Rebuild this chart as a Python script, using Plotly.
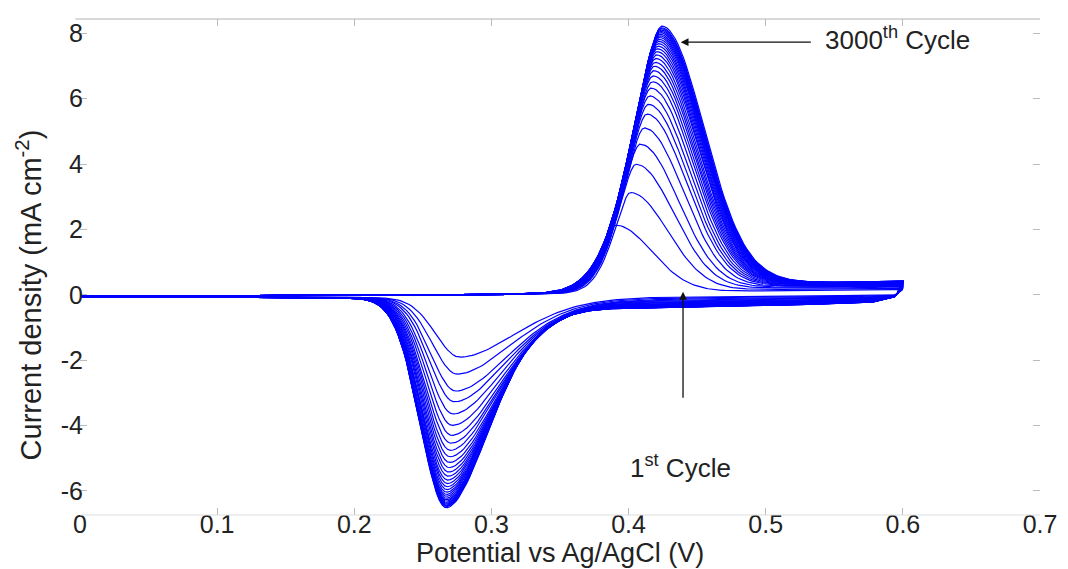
import numpy as np
import plotly.graph_objects as go

# ---------------- data ----------------
# anodic (oxidation) peak of each plotted cycle, 1st -> 3000th
ANODIC_PEAK = [2.08, 3.08, 3.95, 4.57, 5.07, 5.50, 5.80, 6.06, 6.30, 6.50, 6.68,
               6.84, 6.98, 7.10, 7.22, 7.33, 7.43, 7.52, 7.60, 7.68, 7.75, 7.81,
               7.87, 7.92, 7.97, 8.02, 8.06, 8.10, 8.14, 8.17, 8.22]
ANODIC_POT = [0.390, 0.401, 0.405, 0.408, 0.411, 0.413, 0.414, 0.415, 0.416, 0.417,
              0.4175, 0.418, 0.4185, 0.419, 0.4195, 0.420, 0.4203, 0.4206, 0.421,
              0.4213, 0.4216, 0.422, 0.4222, 0.4224, 0.4226, 0.4228, 0.423, 0.4232,
              0.4234, 0.4236, 0.424]
# cathodic (reduction) peak of each plotted cycle
CATHODIC_PEAK = [-1.80, -2.33, -2.86, -3.20, -3.58, -3.94, -4.25, -4.50, -4.72, -4.92,
                 -5.10, -5.26, -5.40, -5.53, -5.65, -5.76, -5.86, -5.95, -6.03, -6.10,
                 -6.16, -6.22, -6.27, -6.31, -6.35, -6.38, -6.41, -6.44, -6.46, -6.48,
                 -6.52]
CATHODIC_POT = [0.277, 0.275, 0.274, 0.273, 0.272, 0.2715, 0.271, 0.2705, 0.270,
                0.2697, 0.2694, 0.269, 0.2687, 0.2684, 0.268, 0.2678, 0.2676, 0.2674,
                0.2672, 0.267, 0.267, 0.267, 0.267, 0.267, 0.267, 0.267, 0.267, 0.267,
                0.267, 0.267, 0.267]

# peak widths (V) of first and last cycle: left / right of the peak
ANODIC_WIDTH_FIRST = [0.0152, 0.0378]
ANODIC_WIDTH_LAST = [0.0307, 0.0434]
CATHODIC_WIDTH_FIRST = [0.0250, 0.0590]
CATHODIC_WIDTH_LAST = [0.0265, 0.0460]

# capacitive background of forward / reverse sweeps (first and last cycle)
FWD_BG_X = [0.0, 0.1, 0.2, 0.3, 0.35, 0.4, 0.45, 0.5, 0.55, 0.58, 0.6]
FWD_BG_FIRST = [-0.05, -0.04, -0.02, 0.0, 0.03, 0.06, 0.10, 0.12, 0.13, 0.15, 0.16]
FWD_BG_LAST = [-0.05, -0.04, -0.02, 0.0, 0.05, 0.15, 0.30, 0.40, 0.38, 0.40, 0.42]
REV_BG_X = [0.0, 0.1, 0.2, 0.25, 0.3, 0.35, 0.4, 0.45, 0.5, 0.55, 0.58, 0.595, 0.6]
REV_BG_FIRST = [-0.06, -0.06, -0.08, -0.10, -0.12, -0.10, -0.08, -0.05, -0.04, -0.03,
                -0.02, 0.0, 0.16]
REV_BG_LAST = [-0.07, -0.07, -0.10, -0.15, -0.28, -0.42, -0.40, -0.36, -0.32, -0.28,
               -0.22, -0.05, 0.42]

X_TICKS = [0, 0.1, 0.2, 0.3, 0.4, 0.5, 0.6, 0.7]
X_TICK_TEXT = ["0", "0.1", "0.2", "0.3", "0.4", "0.5", "0.6", "0.7"]
Y_TICKS = [-6, -4, -2, 0, 2, 4, 6, 8]
Y_TICK_TEXT = ["-6", "-4", "-2", "0", "2", "4", "6", "8"]

# ---------------- build the voltammograms ----------------
E_fwd = np.linspace(0.0, 0.6, 301)
E_rev = E_fwd[::-1]


def peak(E, h, p, L, a, R, b):
    d = E - p
    left = np.exp(-(np.abs(d) / L) ** a)
    right = np.exp(-(np.abs(d) / R) ** b)
    return h * np.where(d < 0, left, right)


fig = go.Figure()
n = len(ANODIC_PEAK)
for i in range(n):
    ta = (ANODIC_PEAK[i] - ANODIC_PEAK[0]) / (ANODIC_PEAK[-1] - ANODIC_PEAK[0])
    tc = (CATHODIC_PEAK[i] - CATHODIC_PEAK[0]) / (CATHODIC_PEAK[-1] - CATHODIC_PEAK[0])
    fb = np.interp(E_fwd, FWD_BG_X, FWD_BG_FIRST) * (1 - ta) + np.interp(E_fwd, FWD_BG_X, FWD_BG_LAST) * ta
    rb = np.interp(E_rev, REV_BG_X, REV_BG_FIRST) * (1 - tc) + np.interp(E_rev, REV_BG_X, REV_BG_LAST) * tc
    La = ANODIC_WIDTH_FIRST[0] + ta * (ANODIC_WIDTH_LAST[0] - ANODIC_WIDTH_FIRST[0])
    Ra = ANODIC_WIDTH_FIRST[1] + ta * (ANODIC_WIDTH_LAST[1] - ANODIC_WIDTH_FIRST[1])
    Lc = CATHODIC_WIDTH_FIRST[0] + tc * (CATHODIC_WIDTH_LAST[0] - CATHODIC_WIDTH_FIRST[0])
    Rc = CATHODIC_WIDTH_FIRST[1] + tc * (CATHODIC_WIDTH_LAST[1] - CATHODIC_WIDTH_FIRST[1])
    ha = ANODIC_PEAK[i] - np.interp(ANODIC_POT[i], FWD_BG_X, FWD_BG_LAST) * ta
    hc = CATHODIC_PEAK[i] - np.interp(CATHODIC_POT[i], REV_BG_X, REV_BG_LAST) * tc
    j_f = fb + peak(E_fwd, ha, ANODIC_POT[i], La, 1.6 + 0.1 * ta, Ra, 2.0)
    j_r = rb + peak(E_rev, hc, CATHODIC_POT[i], Lc, 2.0, Rc, 1.8)
    x = np.concatenate([E_fwd, E_rev])
    y = np.concatenate([j_f, j_r])
    fig.add_trace(go.Scatter(x=x, y=y, mode="lines",
                             line=dict(color="rgb(0,0,255)", width=1.2),
                             hoverinfo="skip", showlegend=False))

FONT = "Liberation Sans, Arial, sans-serif"

# the page body has an 8 px margin, so the figure is 8 px smaller than the window
fig.update_layout(
    width=1060, height=561,
    margin=dict(l=72, r=25, t=11, b=54),
    plot_bgcolor="white", paper_bgcolor="white",
    showlegend=False,
    font=dict(family=FONT, color="#222222"),
    xaxis=dict(range=[0, 0.7], tickvals=X_TICKS, ticktext=X_TICK_TEXT,
               ticks="inside", ticklen=7, tickcolor="#bbbbbb", tickwidth=1,
               mirror="ticks", showline=False, showgrid=False, zeroline=False,
               ticklabelstandoff=-8,
               tickfont=dict(size=25, family=FONT, color="#222222")),
    yaxis=dict(range=[-6.74, 8.44], tickvals=Y_TICKS, ticktext=Y_TICK_TEXT,
               ticks="inside", ticklen=7, tickcolor="#bbbbbb", tickwidth=1,
               mirror="ticks", showline=False, showgrid=False, zeroline=False,
               ticklabelstandoff=-4,
               tickfont=dict(size=25, family=FONT, color="#222222")),
    shapes=[
        dict(type="line", xref="paper", yref="paper", x0=-0.005, x1=1, y0=1, y1=1,
             line=dict(color="#b4b4b4", width=1.2)),
        dict(type="line", xref="paper", yref="paper", x0=0, x1=1, y0=0, y1=0,
             line=dict(color="#dddddd", width=1.2)),
    ],
    annotations=[
        dict(text="Potential vs Ag/AgCl (V)", xref="paper", yref="paper",
             x=0.5, y=-0.077, xanchor="center", yanchor="middle", showarrow=False,
             font=dict(size=27, family=FONT, color="#222222")),
        dict(text="Current density (mA cm<sup>-2</sup>)", xref="paper", yref="paper",
             x=-0.053, y=0.443, xanchor="center", yanchor="middle", showarrow=False,
             textangle=-90, font=dict(size=29, family=FONT, color="#222222")),
        # 3000th cycle arrow
        dict(x=0.438, y=7.73, ax=0.534, ay=7.73, xref="x", yref="y", axref="x", ayref="y",
             text="", showarrow=True, arrowhead=2, arrowsize=1.2, arrowwidth=1.3,
             arrowcolor="#111111"),
        dict(text="3000<sup>th</sup> Cycle", x=0.542, y=7.85, xref="x", yref="y",
             xanchor="left", yanchor="middle", showarrow=False,
             font=dict(size=26, family=FONT, color="#222222")),
        # 1st cycle arrow
        dict(x=0.4397, y=0.09, ax=0.4397, ay=-3.2, xref="x", yref="y", axref="x", ayref="y",
             text="", showarrow=True, arrowhead=2, arrowsize=1.2, arrowwidth=1.3,
             arrowcolor="#111111"),
        dict(text="1<sup>st</sup> Cycle", x=0.3996, y=-5.26, xref="x", yref="y",
             xanchor="left", yanchor="middle", showarrow=False,
             font=dict(size=26, family=FONT, color="#222222")),
    ],
)

fig.write_html("out.html")
